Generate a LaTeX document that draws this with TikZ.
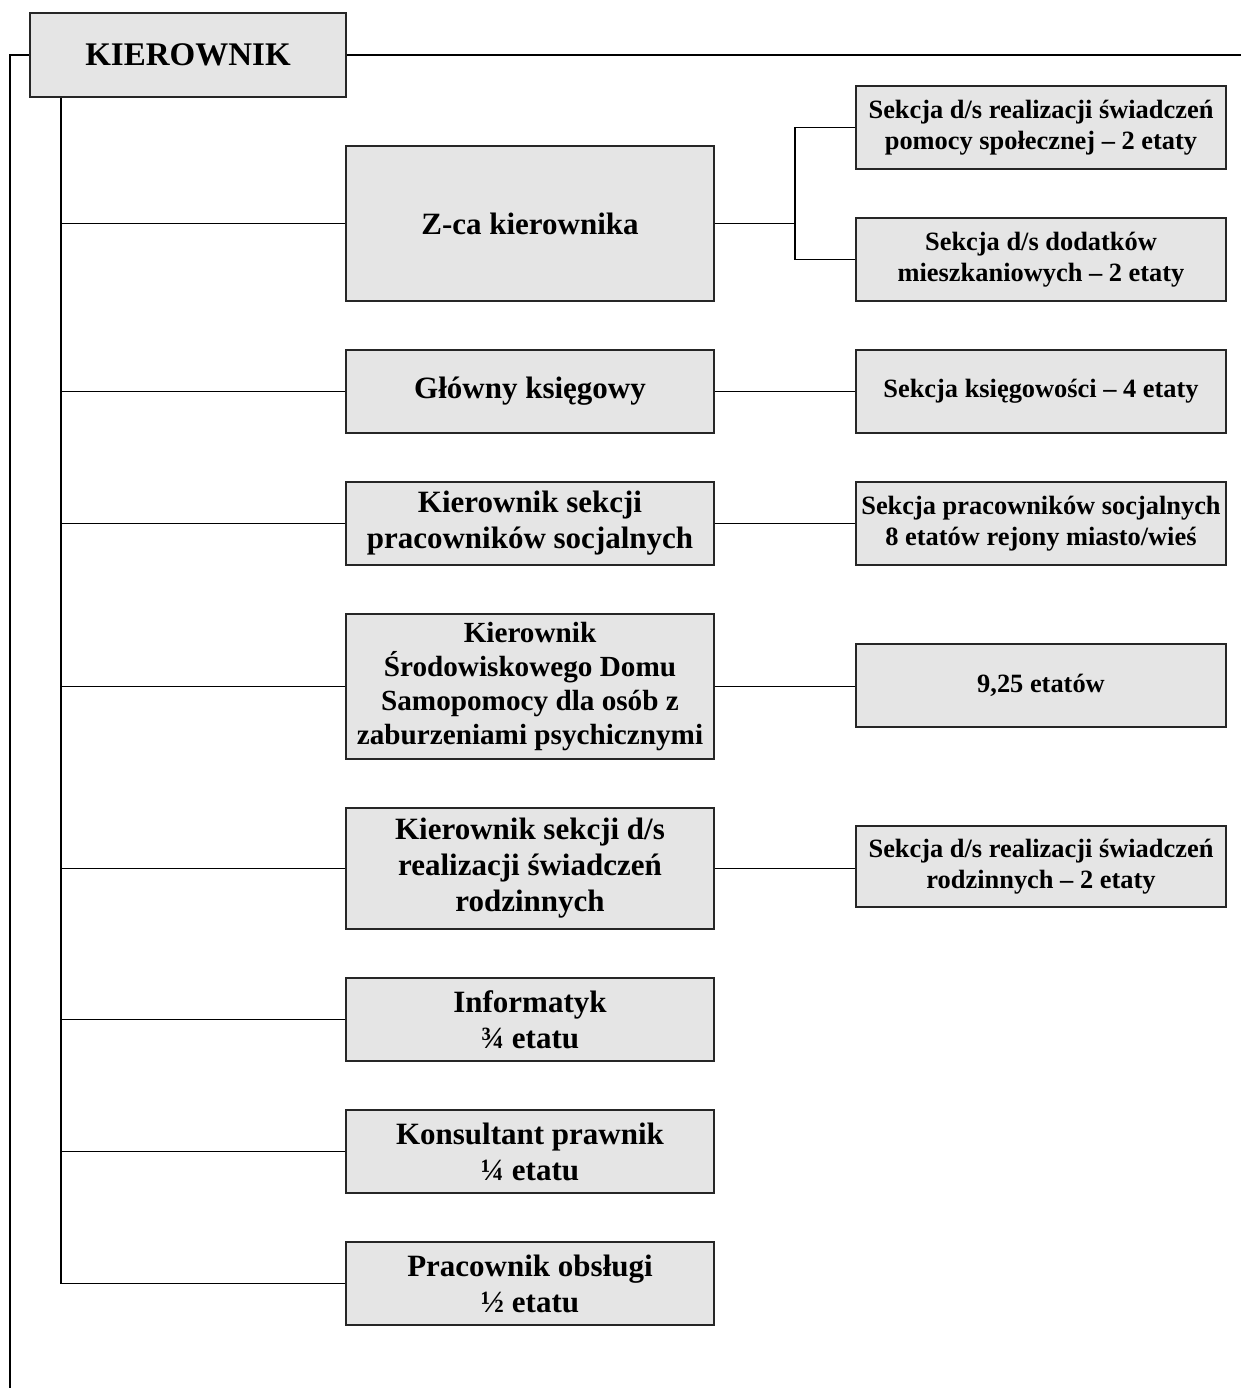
\documentclass[tikz,border=0pt]{standalone}
\usepackage{fontspec}
\setmainfont{Liberation Serif}
\usetikzlibrary{positioning}

\begin{document}
\begin{tikzpicture}[x=0.5pt, y=-0.5pt, line width=0.9pt,
    box/.style={draw=black!85, fill=gray!20, align=center, inner sep=0pt},
    topbox/.style={box, minimum width=158pt, minimum height=42pt, font=\fontsize{16.5}{19}\bfseries},
    midbox/.style={box, minimum width=184pt, font=\fontsize{15.5}{18}\bfseries},
    sidebox/.style={box, minimum width=185pt, minimum height=41.5pt, font=\fontsize{13.2}{15.5}\bfseries}]
    \useasboundingbox (0,0) rectangle (1241,1388);

    % kierownictwo
    \node[topbox] (kier) at (188,55) {KIEROWNIK};
    \node[midbox, minimum height=77.5pt] (zca) at (530,223.5) {Z-ca kierownika};
    \node[midbox, minimum height=41.5pt] (glk) at (530,391.5) {Główny księgowy};
    \node[midbox, minimum height=41.5pt] (kps) at (530,523.5) {Kierownik sekcji\\pracowników socjalnych};
    \node[midbox, minimum height=72.5pt, font=\fontsize{14.6}{17}\bfseries] (sds) at (530,686.5)
        {Kierownik\\Środowiskowego Domu\\Samopomocy dla osób z\\zaburzeniami psychicznymi};
    \node[midbox, minimum height=60.5pt] (ksr) at (530,868.5) {Kierownik sekcji d/s\\realizacji świadczeń\\rodzinnych};
    \node[midbox, minimum height=41.5pt] (inf) at (530,1019.5) {Informatyk\\¾ etatu};
    \node[midbox, minimum height=41.5pt] (kon) at (530,1151.5) {Konsultant prawnik\\¼ etatu};
    \node[midbox, minimum height=41.5pt] (obs) at (530,1283.5) {Pracownik obsługi\\½ etatu};

    % sekcje
    \node[sidebox] (spo) at (1041,127.5) {Sekcja d/s realizacji świadczeń\\pomocy społecznej -- 2 etaty};
    \node[sidebox] (dod) at (1041,259.5) {Sekcja d/s dodatków\\mieszkaniowych -- 2 etaty};
    \node[sidebox] (ksieg) at (1041,391.5) {Sekcja księgowości -- 4 etaty};
    \node[sidebox] (psoc) at (1041,523.5) {Sekcja pracowników socjalnych\\8 etatów rejony miasto/wieś};
    \node[sidebox] (etat) at (1041,685.5) {9,25 etatów};
    \node[sidebox, minimum height=40.5pt] (rodz) at (1041,866.5) {Sekcja d/s realizacji świadczeń\\rodzinnych -- 2 etaty};

    % linie
    \coordinate (spine) at (61,1286);
    \coordinate (outl) at (10,1388);
    \coordinate (outr) at (1241,53);
    \coordinate (zfork) at (795,0);
    \draw (kier.south -| spine) -- (spine |- obs.west);
    \foreach \n in {zca,glk,kps,sds,ksr,inf,kon,obs}
        \draw (\n.west) -- (\n.west -| spine);
    \draw (kier.west) -- (kier.west -| outl) -- (outl);
    \draw (kier.east) -- (kier.east -| outr);
    \draw (zca.east) -- (zca.east -| zfork);
    \draw (spo.west) -- (spo.west -| zfork) -- (dod.west -| zfork) -- (dod.west);
    \draw (glk) -- (ksieg);
    \draw (kps) -- (psoc);
    \draw (sds.east) -- (sds.east -| etat.west);
    \draw (ksr.east) -- (ksr.east -| rodz.west);
\end{tikzpicture}
\end{document}
